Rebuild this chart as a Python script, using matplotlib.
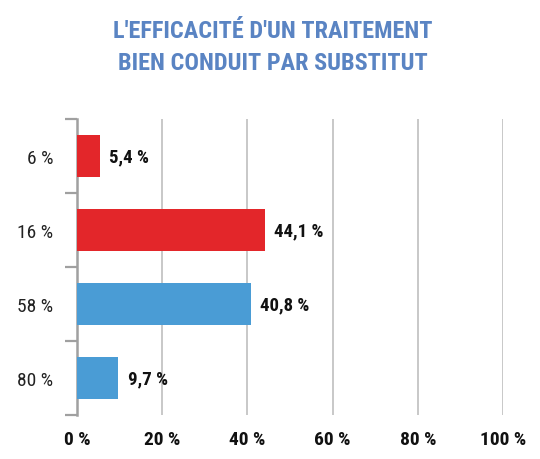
import matplotlib
matplotlib.use("Agg")
import matplotlib.pyplot as plt
from matplotlib import font_manager as fm
from matplotlib.ticker import FixedLocator

# ---- data ----
categories = ["6 %", "16 %", "58 %", "80 %"]
values = [5.4, 44.1, 40.8, 9.7]
value_labels = ["5,4 %", "44,1 %", "40,8 %", "9,7 %"]
bar_colors = ["#E3262A", "#E3262A", "#4A9CD5", "#4A9CD5"]
x_ticks = [0, 20, 40, 60, 80, 100]
x_tick_labels = ["0 %", "20 %", "40 %", "60 %", "80 %", "100 %"]
title = "L'EFFICACITÉ D'UN TRAITEMENT\nBIEN CONDUIT PAR SUBSTITUT"

# ---- font choice (condensed if available) ----
names = {f.name for f in fm.fontManager.ttflist}
fam = None
stretch = "normal"
for cand in ["Roboto Condensed", "Liberation Sans Narrow", "Open Sans Condensed"]:
    if cand in names:
        fam = cand
        break
if fam is None:
    if any("Condensed" in f.fname and f.name == "DejaVu Sans" for f in fm.fontManager.ttflist):
        fam = "DejaVu Sans"
        stretch = "condensed"
    else:
        fam = "Roboto"

fig = plt.figure(figsize=(5.4, 4.6), dpi=100)
ax = fig.add_axes([77 / 540, 44 / 460, 426 / 540, 296 / 460])

ypos = list(range(len(categories)))
ax.barh(ypos, values, height=0.56, color=bar_colors, zorder=3)
for y, v, lab in zip(ypos, values, value_labels):
    ax.text(v + 2.2, y, lab, va="center", ha="left", fontsize=13.5,
            fontweight="bold", family=fam, fontstretch=stretch, color="#111111")

ax.set_xlim(0, 100)
ax.set_ylim(len(categories) - 0.5, -0.5)

ax.set_xticks(x_ticks)
ax.set_xticklabels(x_tick_labels, fontsize=14, fontweight="bold",
                   family=fam, fontstretch=stretch, color="#111111")
ax.tick_params(axis="x", length=0, pad=11)

ax.set_yticks(ypos)
ax.set_yticklabels(categories, fontsize=14, family=fam,
                   fontstretch=stretch, color="#222222")
ax.yaxis.set_minor_locator(FixedLocator([i - 0.5 for i in range(len(categories) + 1)]))
ax.tick_params(axis="y", which="major", length=0, pad=17)
ax.tick_params(axis="y", which="minor", length=9, width=1.6, color="#A0A0A0")

for x in x_ticks[1:]:
    ax.axvline(x, color="#C8C8C8", lw=1.4, zorder=1)

for s in ["top", "right", "bottom"]:
    ax.spines[s].set_visible(False)
ax.spines["left"].set_color("#A0A0A0")
ax.spines["left"].set_linewidth(1.8)

fig.text(0.505, 0.957, title, ha="center", va="top", fontsize=17.5,
         fontweight="bold", family=fam, fontstretch=stretch,
         color="#5A84C3", linespacing=1.5)

fig.savefig("out.png", dpi=100)
